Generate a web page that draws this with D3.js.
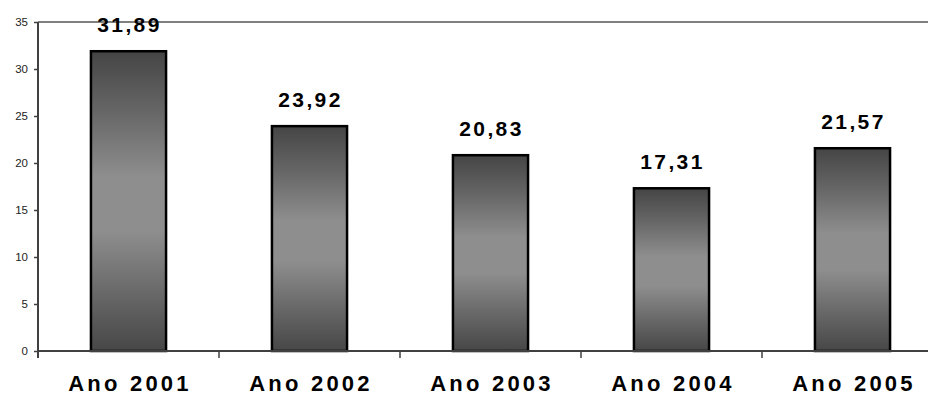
<!DOCTYPE html>
<html>
<head>
<meta charset="utf-8">
<script src="https://cdn.jsdelivr.net/npm/d3@7"></script>
<style>
  html, body { margin: 0; padding: 0; background: #fff; }
  svg { display: block; font-family: "Liberation Sans", Arial, sans-serif; }
</style>
</head>
<body>
<div id="chart"></div>
<script>
// chart data
const categories = ['Ano 2001', 'Ano 2002', 'Ano 2003', 'Ano 2004', 'Ano 2005'];
const values = [31.89, 23.92, 20.83, 17.31, 21.57];
const yTicks = [0, 5, 10, 15, 20, 25, 30, 35];

const WIDTH = 928;
const HEIGHT = 396;
const plotLeft = 38, plotTop = 22, plotBottom = 351;
// plot area runs past the right edge of the window, as in the original
const plotRight = 943;

const svg = d3.select('#chart')
  .append('svg')
  .attr('width', WIDTH)
  .attr('height', HEIGHT);

const defs = svg.append('defs');
const grad = defs.append('linearGradient')
  .attr('id', 'barGrad')
  .attr('x1', 0).attr('y1', 0).attr('x2', 0).attr('y2', 1);
[[0, '#454545'], [0.2, '#666666'], [0.42, '#8e8e8e'], [0.6, '#8e8e8e'], [0.82, '#666666'], [1, '#474747']]
  .forEach(([o, c]) => grad.append('stop').attr('offset', o).attr('stop-color', c));

const x = d3.scaleBand()
  .domain(categories)
  .range([plotLeft, plotRight])
  .padding(0);

const y = d3.scaleLinear()
  .domain([0, 35])
  .range([plotBottom, plotTop]);

// top border of plot area
svg.append('line')
  .attr('x1', plotLeft).attr('x2', WIDTH)
  .attr('y1', y(35)).attr('y2', y(35))
  .attr('stroke', '#808080')
  .attr('stroke-width', 2);

// bars
const barW = x.bandwidth() * 0.415;
svg.selectAll('.bar')
  .data(values)
  .enter()
  .append('rect')
  .attr('class', 'bar')
  .attr('x', (d, i) => x(categories[i]) + (x.bandwidth() - barW) / 2)
  .attr('y', (d) => y(d))
  .attr('width', barW)
  .attr('height', (d) => y(0) - y(d))
  .attr('fill', 'url(#barGrad)')
  .attr('stroke', '#000')
  .attr('stroke-width', 2.5);

// value labels
svg.selectAll('.val')
  .data(values)
  .enter()
  .append('text')
  .attr('class', 'val')
  .attr('x', (d, i) => x(categories[i]) + x.bandwidth() / 2 + 1)
  .attr('y', (d) => y(d) - 19)
  .attr('text-anchor', 'middle')
  .attr('font-size', 21)
  .attr('font-weight', 'bold')
  .attr('letter-spacing', 2.4)
  .attr('fill', '#000')
  .text((d) => d3.format('.2f')(d).replace('.', ','));

// y axis
const yAxis = svg.append('g')
  .attr('transform', `translate(${plotLeft},0)`)
  .call(d3.axisLeft(y).tickValues(yTicks).tickSize(4).tickPadding(6));
yAxis.select('.domain')
  .attr('d', `M0,${plotTop}V${plotBottom + 7}`)
  .attr('stroke', '#404040')
  .attr('stroke-width', 2);
yAxis.selectAll('.tick line').attr('stroke', '#404040').attr('stroke-width', 1.5);
yAxis.selectAll('.tick text')
  .attr('font-size', 11.5)
  .attr('fill', '#222')
  .attr('font-family', '"Liberation Sans", Arial, sans-serif');

// x axis
svg.append('line')
  .attr('x1', plotLeft).attr('x2', WIDTH)
  .attr('y1', plotBottom).attr('y2', plotBottom)
  .attr('stroke', '#404040')
  .attr('stroke-width', 2);

svg.selectAll('.xtick')
  .data(categories.slice(1))
  .enter()
  .append('line')
  .attr('class', 'xtick')
  .attr('x1', (d) => x(d)).attr('x2', (d) => x(d))
  .attr('y1', plotBottom).attr('y2', plotBottom + 7)
  .attr('stroke', '#404040')
  .attr('stroke-width', 1.5);

svg.selectAll('.xlab')
  .data(categories)
  .enter()
  .append('text')
  .attr('class', 'xlab')
  .attr('x', (d) => x(d) + x.bandwidth() / 2 + 1.5)
  .attr('y', 391)
  .attr('text-anchor', 'middle')
  .attr('font-size', 22)
  .attr('font-weight', 'bold')
  .attr('letter-spacing', 3.2)
  .attr('fill', '#000')
  .text((d) => d);
</script>
</body>
</html>
